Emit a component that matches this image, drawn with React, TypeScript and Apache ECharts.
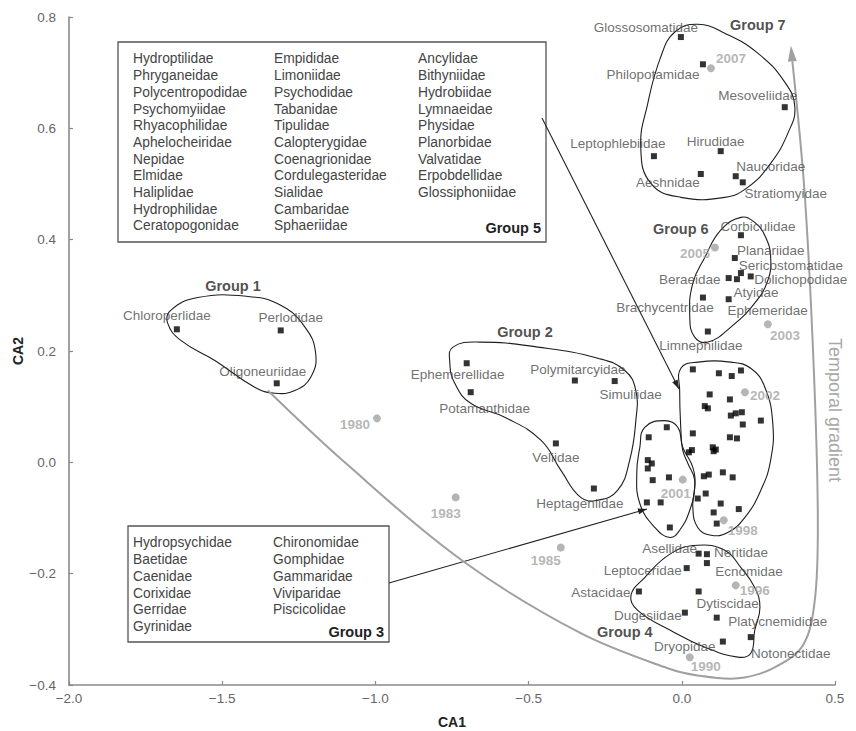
import React, { useEffect, useRef } from 'react';
import * as echarts from 'echarts';

// ---- Data (CA1, CA2 scores) ----
const taxonNames = [
  'Glossosomatidae', 'Philopotamidae', 'Mesoveliidae', 'Leptophlebiidae', 'Hirudidae', 'Aeshnidae', 'Naucoridae', 'Stratiomyidae',
  'Corbiculidae', 'Planariidae', 'Sericostomatidae', 'Dolichopodidae', 'Beraeidae', 'Atyidae', 'Brachycentridae', 'Ephemeridae', 'Limnephilidae',
  'Chloroperlidae', 'Perlodidae', 'Oligoneuriidae',
  'Ephemerellidae', 'Potamanthidae', 'Polymitarcyidae', 'Simuliidae', 'Veliidae', 'Heptageniidae',
  'Asellidae', 'Neritidae', 'Ecnomidae', 'Leptoceridae', 'Astacidae', 'Dytiscidae', 'Dugesiidae', 'Platycnemididae', 'Dryopidae', 'Notonectidae',
];
const taxonX = [
  -0.003, 0.069, 0.336, -0.091, 0.127, 0.062, 0.176, 0.199,
  0.193, 0.173, 0.193, 0.225, 0.153, 0.180, 0.069, 0.153, 0.085,
  -1.648, -1.309, -1.322,
  -0.702, -0.689, -0.349, -0.219, -0.411, -0.287,
  0.055, 0.082, 0.082, 0.016, -0.140, 0.055, 0.010, 0.114, 0.134, 0.225,
];
const taxonY = [
  0.764, 0.715, 0.638, 0.550, 0.559, 0.518, 0.514, 0.503,
  0.408, 0.367, 0.340, 0.334, 0.331, 0.329, 0.296, 0.293, 0.235,
  0.239, 0.237, 0.142,
  0.178, 0.126, 0.147, 0.146, 0.034, -0.047,
  -0.164, -0.165, -0.181, -0.190, -0.232, -0.232, -0.270, -0.279, -0.322, -0.314,
];
// label offsets in pixels (relative to the marker)
const labelDX = [
  -35, -50, -27, -36, -5, -33, 35, 43,
  17, 36, 50, 50, -39, 19, -38, 39, -7,
  -10, 10, -14,
  -9, 14, 3, 16, 0, -14,
  -29, 34, 42, -44, -38, 29, -37, 61, -38, 40,
];
const labelDY = [
  -10, 10, -12, -13, -10, 9, -10, 11,
  -9, -8, -8, 3, 1, 13, 10, 11, 14,
  -14, -13, -12,
  11, 16, -11, 13, 14, 15,
  -5, -2, 8, 2, 1, 12, 3, 4, 5, 16,
];

// unlabelled taxa of the two central clusters (groups 3 and 5)
const otherX = [
  0.036, 0.121, 0.163, 0.193, 0.091, 0.157, 0.075, 0.085, 0.160, 0.176, 0.196, 0.258, 0.199, 0.036,
  0.157, 0.180, -0.049, -0.108, 0.023, 0.033, 0.101, 0.111, 0.104, -0.111, -0.098, -0.111, -0.095,
  -0.042, 0.072, 0.088, 0.134, 0.166, 0.078, 0.052, -0.114, -0.069, 0.127, 0.104, 0.186, -0.039, 0.114,
];
const otherY = [
  0.167, 0.160, 0.155, 0.165, 0.122, 0.113, 0.101, 0.097, 0.084, 0.088, 0.090, 0.075, 0.068, 0.052,
  0.045, 0.043, 0.063, 0.045, 0.018, 0.022, 0.027, 0.023, 0.020, 0.004, -0.002, -0.011, -0.032,
  -0.027, -0.025, -0.022, -0.018, -0.027, -0.056, -0.065, -0.072, -0.072, -0.074, -0.090, -0.084, -0.117, -0.110,
];

const yearNames = ['1980', '1983', '1985', '1990', '1996', '1998', '2001', '2002', '2003', '2005', '2007'];
const yearX = [-0.995, -0.738, -0.395, 0.026, 0.176, 0.137, 0.003, 0.206, 0.281, 0.108, 0.095];
const yearY = [0.079, -0.063, -0.153, -0.350, -0.221, -0.104, -0.031, 0.126, 0.248, 0.386, 0.708];
const yearDX = [-22, -10, -15, 16, 19, 19, -7, 20, 17, -20, 20];
const yearDY = [6, 16, 13, 9, 5, 10, 14, 3, 11, 6, -10];

const groupNames = ['Group 1', 'Group 2', 'Group 4', 'Group 6', 'Group 7'];
const groupX = [-1.465, -0.512, -0.186, -0.003, 0.248];
const groupY = [0.316, 0.234, -0.305, 0.419, 0.785];

const outlineG1 = [[-1.668, 0.273], [-1.580, 0.296], [-1.416, 0.298], [-1.309, 0.282], [-1.230, 0.243], [-1.195, 0.196], [-1.211, 0.153], [-1.263, 0.129], [-1.328, 0.124], [-1.394, 0.135], [-1.524, 0.183], [-1.635, 0.219], [-1.678, 0.250]];
const outlineG2 = [[-0.747, 0.207], [-0.656, 0.216], [-0.470, 0.207], [-0.274, 0.187], [-0.186, 0.165], [-0.150, 0.129], [-0.150, 0.075], [-0.170, 0.004], [-0.209, -0.050], [-0.274, -0.068], [-0.330, -0.063], [-0.395, -0.014], [-0.460, 0.040], [-0.578, 0.081], [-0.689, 0.106], [-0.741, 0.142], [-0.757, 0.178]];
const outlineG5 = [[-0.003, 0.169], [0.052, 0.180], [0.160, 0.180], [0.225, 0.169], [0.271, 0.135], [0.297, 0.070], [0.290, 0.004], [0.258, -0.050], [0.206, -0.099], [0.150, -0.126], [0.095, -0.131], [0.052, -0.117], [0.036, -0.081], [0.042, -0.032], [0.020, -0.002], [0.003, 0.022], [-0.003, 0.058], [-0.007, 0.129]];
const outlineG3 = [[-0.121, 0.063], [-0.055, 0.075], [-0.013, 0.063], [0.003, 0.027], [0.036, -0.009], [0.042, -0.045], [0.026, -0.086], [-0.007, -0.122], [-0.039, -0.135], [-0.088, -0.117], [-0.137, -0.074], [-0.147, -0.020], [-0.137, 0.027]];
const outlineG6 = [[0.193, 0.440], [0.238, 0.431], [0.274, 0.404], [0.290, 0.368], [0.281, 0.327], [0.238, 0.286], [0.160, 0.243], [0.085, 0.216], [0.042, 0.225], [0.026, 0.261], [0.036, 0.322], [0.075, 0.368], [0.127, 0.417]];
const outlineG7 = [[-0.023, 0.773], [0.052, 0.787], [0.140, 0.771], [0.248, 0.735], [0.336, 0.683], [0.369, 0.638], [0.346, 0.591], [0.290, 0.537], [0.215, 0.494], [0.140, 0.476], [-0.003, 0.476], [-0.101, 0.501], [-0.134, 0.566], [-0.111, 0.645], [-0.069, 0.728]];
const outlineG4 = [[0.052, -0.149], [0.140, -0.158], [0.193, -0.189], [0.238, -0.225], [0.255, -0.261], [0.238, -0.302], [0.225, -0.343], [0.183, -0.350], [0.075, -0.332], [-0.036, -0.302], [-0.144, -0.266], [-0.166, -0.239], [-0.121, -0.207], [-0.036, -0.164]];
const outlines = [outlineG1, outlineG2, outlineG5, outlineG3, outlineG6, outlineG7, outlineG4];

const gradientPath = [[-1.351, 0.129], [-1.090, -0.005], [-0.708, -0.180], [-0.330, -0.307], [-0.046, -0.370], [0.052, -0.383], [0.183, -0.388], [0.297, -0.370], [0.395, -0.329], [0.434, -0.248], [0.444, -0.104], [0.431, 0.165], [0.401, 0.483], [0.356, 0.749]];

const group5Cols = [
  ['Hydroptilidae', 'Phryganeidae', 'Polycentropodidae', 'Psychomyiidae', 'Rhyacophilidae', 'Aphelocheiridae', 'Nepidae', 'Elmidae', 'Haliplidae', 'Hydrophilidae', 'Ceratopogonidae'],
  ['Empididae', 'Limoniidae', 'Psychodidae', 'Tabanidae', 'Tipulidae', 'Calopterygidae', 'Coenagrionidae', 'Cordulegasteridae', 'Sialidae', 'Cambaridae', 'Sphaeriidae'],
  ['Ancylidae', 'Bithyniidae', 'Hydrobiidae', 'Lymnaeidae', 'Physidae', 'Planorbidae', 'Valvatidae', 'Erpobdellidae', 'Glossiphoniidae'],
];
const group3Cols = [
  ['Hydropsychidae', 'Baetidae', 'Caenidae', 'Corixidae', 'Gerridae', 'Gyrinidae'],
  ['Chironomidae', 'Gomphidae', 'Gammaridae', 'Viviparidae', 'Piscicolidae'],
];

const FONT = '"Liberation Sans", Arial, Helvetica, sans-serif';

function arrowHead(x1: number, y1: number, x2: number, y2: number, len: number, half: number) {
  const a = Math.atan2(y2 - y1, x2 - x1);
  const bx = x2 - len * Math.cos(a);
  const by = y2 - len * Math.sin(a);
  const nx = -Math.sin(a) * half;
  const ny = Math.cos(a) * half;
  return [[x2, y2], [bx + nx, by + ny], [bx - nx, by - ny]];
}

function boxTexts(cols: string[][], xs: number[], top: number) {
  return cols.map((c, i) => ({
    type: 'text',
    x: xs[i],
    y: top,
    style: { text: c.join('\n'), fill: '#444', font: `13.8px ${FONT}`, lineHeight: 16.7, textVerticalAlign: 'top' },
  }));
}

export default function App() {
  const ref = useRef<HTMLDivElement>(null);
  useEffect(() => {
    document.body.style.margin = '0';
    const chart = echarts.init(ref.current!, null, { renderer: 'svg' });
    const fmt = (v: number) => v.toFixed(1).replace('-', '\u2212');

    const a5 = [542, 118, 679, 389];
    const a3 = [389, 583, 647, 509];

    const option: any = {
      animation: false,
      backgroundColor: '#ffffff',
      textStyle: { fontFamily: FONT },
      grid: { left: 69, right: 21, top: 17, bottom: 46, outerBoundsMode: 'none', containLabel: false },
      xAxis: {
        type: 'value', min: -2, max: 0.5, interval: 0.5,
        name: 'CA1', nameLocation: 'middle', nameGap: 30, nameMoveOverlap: false,
        nameTextStyle: { fontWeight: 'bold', fontSize: 14, color: '#222', fontFamily: FONT },
        axisLine: { onZero: false, lineStyle: { color: '#8a8a8a', width: 1.6 } },
        axisTick: { inside: true, length: 4, lineStyle: { color: '#8a8a8a', width: 1.2 } },
        axisLabel: { formatter: fmt, color: '#666', fontSize: 13.5, margin: 6, fontFamily: FONT },
        splitLine: { show: false },
      },
      yAxis: {
        type: 'value', min: -0.4, max: 0.8, interval: 0.2,
        name: 'CA2', nameLocation: 'middle', nameGap: 44, nameRotate: 90, nameMoveOverlap: false,
        nameTextStyle: { fontWeight: 'bold', fontSize: 14, color: '#222', fontFamily: FONT },
        axisLine: { onZero: false, lineStyle: { color: '#8a8a8a', width: 1.6 } },
        axisTick: { inside: true, length: 4, lineStyle: { color: '#8a8a8a', width: 1.2 } },
        axisLabel: { formatter: fmt, color: '#666', fontSize: 13.5, margin: 13, fontFamily: FONT },
        splitLine: { show: false },
      },
      graphic: [
        { type: 'rect', shape: { x: 118, y: 42, width: 428, height: 200 }, style: { fill: 'none', stroke: '#555', lineWidth: 1.3 } },
        ...boxTexts(group5Cols, [133, 274, 418], 50.6),
        { type: 'text', x: 541, y: 228, style: { text: 'Group 5', fill: '#222', font: `bold 14.5px ${FONT}`, textAlign: 'right', textVerticalAlign: 'middle' } },
        { type: 'rect', shape: { x: 128, y: 526, width: 261, height: 116 }, style: { fill: '#fff', stroke: '#555', lineWidth: 1.3 } },
        ...boxTexts(group3Cols, [133, 273], 534.6),
        { type: 'text', x: 384, y: 632, style: { text: 'Group 3', fill: '#222', font: `bold 14.5px ${FONT}`, textAlign: 'right', textVerticalAlign: 'middle' } },
        { type: 'line', shape: { x1: a5[0], y1: a5[1], x2: a5[2], y2: a5[3] }, style: { stroke: '#222', lineWidth: 1.1 } },
        { type: 'polygon', shape: { points: arrowHead(a5[0], a5[1], a5[2], a5[3], 9, 3) }, style: { fill: '#222' } },
        { type: 'line', shape: { x1: a3[0], y1: a3[1], x2: a3[2], y2: a3[3] }, style: { stroke: '#222', lineWidth: 1.1 } },
        { type: 'polygon', shape: { points: arrowHead(a3[0], a3[1], a3[2], a3[3], 9, 3) }, style: { fill: '#222' } },
        { type: 'text', x: 835, y: 410, rotation: -Math.PI / 2, style: { text: 'Temporal gradient', fill: '#a8a8a8', font: `18px ${FONT}`, textAlign: 'center', textVerticalAlign: 'middle' } },
      ],
      series: [
        {
          type: 'custom', name: 'outlines', coordinateSystem: 'cartesian2d', silent: true, z: 1,
          data: outlines.map((o, i) => [o[0][0], o[0][1], i]),
          renderItem: (params: any, api: any) => {
            const pts = outlines[params.dataIndex].map((p) => api.coord(p));
            return { type: 'polygon', shape: { points: pts, smooth: 0.45 }, style: { fill: 'none', stroke: '#1e1e1e', lineWidth: 1.1 } };
          },
        },
        {
          type: 'custom', name: 'gradient', coordinateSystem: 'cartesian2d', silent: true, z: 1,
          data: [[gradientPath[0][0], gradientPath[0][1]]],
          renderItem: (params: any, api: any) => {
            const pts = gradientPath.map((p) => api.coord(p));
            const n = pts.length;
            const head = arrowHead(pts[n - 2][0], pts[n - 2][1], pts[n - 1][0], pts[n - 1][1], 16, 4.5);
            const end = [(head[1][0] + head[2][0]) / 2, (head[1][1] + head[2][1]) / 2];
            return {
              type: 'group',
              children: [
                { type: 'polyline', shape: { points: pts.slice(0, n - 1).concat([end]), smooth: 0.35 }, style: { fill: 'none', stroke: '#a0a0a0', lineWidth: 2 } },
                { type: 'polygon', shape: { points: head }, style: { fill: '#a0a0a0' } },
              ],
            };
          },
        },
        {
          type: 'scatter', name: 'taxa', z: 3, symbol: 'rect', symbolSize: 6,
          itemStyle: { color: '#000' },
          data: taxonNames.map((n, i) => ({ name: n, value: [taxonX[i], taxonY[i]], label: { offset: [labelDX[i], labelDY[i]] } })),
          label: { show: true, position: 'inside', formatter: '{b}', color: '#4a4a4a', fontSize: 13.5, fontFamily: FONT },
        },
        {
          type: 'scatter', name: 'other taxa', z: 3, symbol: 'rect', symbolSize: 6,
          itemStyle: { color: '#000' },
          data: otherX.map((x, i) => [x, otherY[i]]),
        },
        {
          type: 'scatter', name: 'years', z: 2, symbol: 'circle', symbolSize: 8,
          itemStyle: { color: '#a3a3a3' },
          data: yearNames.map((n, i) => ({ name: n, value: [yearX[i], yearY[i]], label: { offset: [yearDX[i], yearDY[i]] } })),
          label: { show: true, position: 'inside', formatter: '{b}', color: '#a3a3a3', fontSize: 13.5, fontWeight: 'bold', fontFamily: FONT },
        },
        {
          type: 'scatter', name: 'groups', z: 4, symbolSize: 0,
          data: groupNames.map((n, i) => ({ name: n, value: [groupX[i], groupY[i]] })),
          label: { show: true, position: 'inside', formatter: '{b}', color: '#222', fontSize: 14.5, fontWeight: 'bold', fontFamily: FONT },
        },
      ],
    };
    chart.setOption(option);
    return () => chart.dispose();
  }, []);
  return <div ref={ref} style={{ width: 856, height: 731 }} />;
}
